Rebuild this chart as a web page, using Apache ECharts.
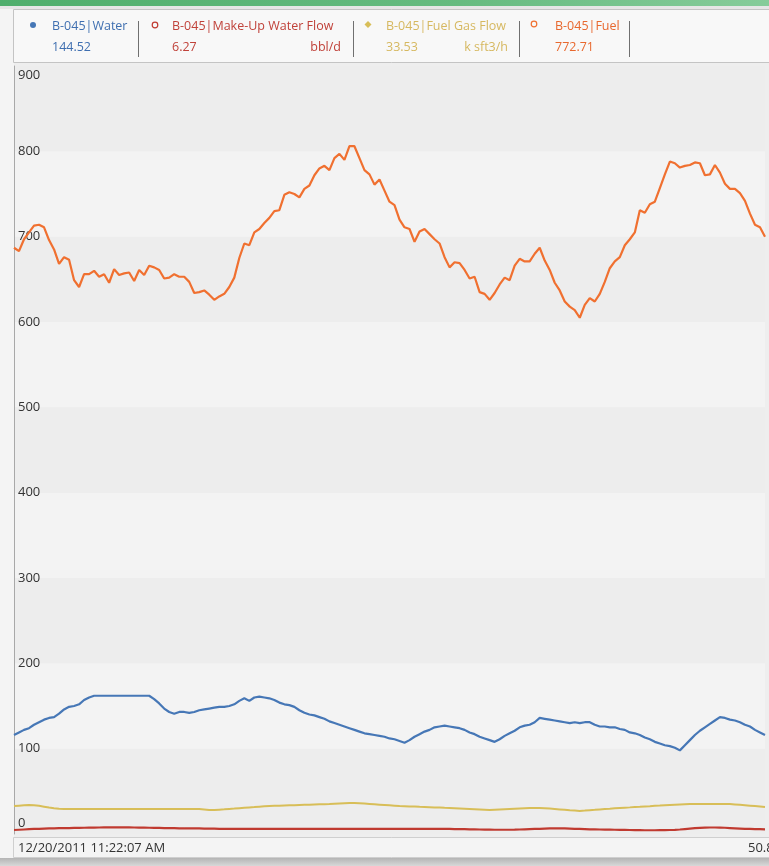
<!DOCTYPE html>
<html>
<head>
<meta charset="utf-8">
<script src="https://cdn.jsdelivr.net/npm/echarts@6/dist/echarts.min.js"></script>
<style>
html,body{margin:0;padding:0;background:#ececec;}
#c{width:769px;height:866px;}
</style>
</head>
<body>
<div id="c"></div>
<script>
// ---- data ----
const seriesNames = ['B-045|Water', 'B-045|Make-Up Water Flow', 'B-045|Fuel Gas Flow', 'B-045|Fuel'];
const currentValues = ['144.52', '6.27', '33.53', '772.71'];
const units = ['', 'bbl/d', 'k sft3/h', ''];
const xTickLabels = ['12/20/2011 11:22:07 AM', '50.8'];
const yTicks = [0, 100, 200, 300, 400, 500, 600, 700, 800, 900];

const fuel = [687,683,697,705,713,714,711,696,685,668,676,673,649,641,656,656,660,653,656,646,
662,655,657,658,648,661,655,666,664,661,651,652,656,653,653,647,634,635,637,632,
626,630,633,641,652,675,692,690,705,709,716,722,730,731,749,752,750,746,756,760,
772,780,783,778,792,797,790,806,806,792,778,773,761,767,754,741,737,720,711,709,
694,706,709,703,697,692,676,664,670,669,661,651,653,635,633,626,634,644,652,649,
666,674,671,671,680,687,672,661,646,637,624,618,614,605,620,628,624,633,647,663,
671,676,690,697,705,731,728,738,741,757,773,788,786,781,783,784,787,786,772,773,
784,775,762,756,756,751,742,727,714,711,700];

const water = [116,119,122,124,128,131,134,136,137,141,146,149,150,152,157,160,162,162,162,162,
162,162,162,162,162,162,162,162,158,153,147,143,141,143,143,142,143,145,146,147,
148,149,149,150,152,156,159,156,160,161,160,159,157,154,152,151,149,145,142,140,
139,137,135,132,130,128,126,124,122,120,118,117,116,115,114,112,111,109,107,110,
114,117,120,122,125,126,127,126,125,124,122,119,117,114,112,110,108,111,115,118,
121,125,127,128,131,136,135,134,133,132,131,130,131,130,131,131,128,126,126,125,
125,123,122,119,118,116,113,111,108,106,104,103,101,98,104,110,116,121,125,129,
133,137,136,134,133,131,128,126,122,119,116];

const fuelGas = [32.8,33.2,33.6,34.0,33.6,33.0,32.0,31.0,30.2,29.5,
29.3,29.3,29.3,29.3,29.3,29.3,29.3,29.3,29.3,29.3,29.3,29.3,29.3,29.3,29.3,29.3,29.3,29.3,29.3,29.3,29.3,29.3,29.3,29.3,29.3,29.3,29.3,29.3,
28.7,28.1,28.1,
28.5,28.9,29.4,29.8,30.3,30.7,31.1,31.5,32.0,32.4,32.8,
33.0,33.2,33.4,33.6,33.8,34.0,34.2,34.4,34.6,34.8,35.0,35.2,
35.5,35.8,36.1,36.3,36.3,36.0,
35.6,35.2,34.8,34.4,34.0,33.6,33.2,32.8,
32.6,32.3,32.1,31.8,31.6,31.4,31.2,31.0,30.7,30.5,
30.2,29.9,29.6,29.3,29.0,28.7,28.4,28.1,
28.4,28.7,29.0,29.3,29.6,29.9,30.2,30.5,
30.5,30.5,30.3,
29.8,29.3,28.8,28.3,27.8,27.4,27.0,
27.4,27.9,28.3,28.8,29.2,29.6,30.1,30.5,
30.9,31.2,31.6,31.9,32.3,32.6,33.0,33.3,33.7,34.0,
34.3,34.6,34.9,35.2,
35.2,35.2,35.2,35.2,35.2,35.2,35.2,35.2,
34.7,34.2,33.7,33.2,32.7,32.2,31.7];

const makeUp = [4.7,5.0,5.3,5.6,5.9,6.1,
6.3,6.5,6.7,6.8,6.9,7.0,7.1,7.2,7.3,7.4,7.5,7.6,
7.7,7.8,7.8,7.8,7.8,7.7,7.6,7.5,7.4,7.3,7.2,7.1,7.0,6.9,6.8,6.7,6.6,6.5,6.5,6.5,
6.4,6.3,6.2,6.1,6.0,5.9,5.9,5.9,5.9,5.9,5.9,5.9,5.9,5.9,5.9,5.9,5.9,5.9,5.9,5.9,5.9,5.9,5.9,5.9,5.9,
5.9,5.9,5.9,5.9,5.9,5.9,5.9,5.9,5.9,5.9,5.9,5.9,5.9,5.9,5.9,5.9,5.9,5.9,5.9,5.9,5.9,5.9,5.9,5.9,5.9,
5.8,5.7,5.6,5.5,5.4,5.3,5.2,5.1,5.0,5.0,5.0,5.0,5.1,5.3,5.5,5.7,5.9,6.1,6.3,6.5,6.6,6.6,6.5,6.3,
6.1,5.9,5.7,5.5,5.4,5.3,5.2,5.1,5.0,4.9,4.8,4.7,4.6,4.5,4.4,4.4,4.4,4.5,4.6,4.7,
4.9,5.3,5.8,6.3,6.8,7.2,7.5,7.6,7.6,7.5,7.3,7.0,6.7,6.4,6.1,5.9,5.7,5.6,5.5];

const lineColors = ['#4677b6', '#c03a30', '#d8be58', '#f07030'];
const textColors = ['#3f6fb0', '#c0423a', '#d6b860', '#e8682e'];

// ---- chart ----
const categories = fuel.map((_, i) => i);
const font = 'Open Sans';
const chart = echarts.init(document.getElementById('c'), null, {renderer: 'canvas'});

const legendX = [52, 172, 386, 555];
const markerX = [33, 155, 368, 534];
const unitRightX = [0, 341, 508, 0];
const sepX = [138, 353, 519, 629];

const graphics = [];
graphics.push({type:'rect', shape:{x:0,y:0,width:769,height:866}, style:{fill:'#f4f4f4'}, z:-100, silent:true});
graphics.push({type:'rect', shape:{x:0,y:0,width:769,height:6},
  style:{fill:new echarts.graphic.LinearGradient(0,0,1,0,[{offset:0,color:'#4fae6c'},{offset:0.6,color:'#66bb80'},{offset:1,color:'#86cc9a'}])}, z:-99});
graphics.push({type:'rect', shape:{x:0,y:6,width:769,height:3}, style:{fill:'#e6e6e6'}, z:-99});
graphics.push({type:'rect', shape:{x:13.5,y:9.5,width:760,height:53}, style:{fill:'#f8f8f8', stroke:'#c4c4c4', lineWidth:1}, z:-98});
graphics.push({type:'rect', shape:{x:14,y:63,width:760,height:775}, style:{fill:'#eeeeee'}, z:-98});
graphics.push({type:'rect', shape:{x:13.5,y:837.5,width:760,height:20}, style:{fill:'#f4f4f4', stroke:'#cfcfcf', lineWidth:1}, z:-97});
graphics.push({type:'rect', shape:{x:0,y:858,width:769,height:8},
  style:{fill:new echarts.graphic.LinearGradient(0,0,0,1,[{offset:0,color:'#b4b4b4'},{offset:1,color:'#d8d8d8'}])}, z:-97});

for (let i = 0; i < seriesNames.length; i++) {
  const c = lineColors[i];
  let marker;
  if (i === 0) marker = {type:'circle', shape:{cx:markerX[i], cy:25, r:3}, style:{fill:c}};
  else if (i === 1) marker = {type:'circle', shape:{cx:markerX[i], cy:25, r:2.8}, style:{fill:'none', stroke:c, lineWidth:1.2}};
  else if (i === 2) marker = {type:'polygon', shape:{points:[[markerX[i],21],[markerX[i]+3.5,24.5],[markerX[i],28],[markerX[i]-3.5,24.5]]}, style:{fill:c}};
  else marker = {type:'circle', shape:{cx:markerX[i], cy:24, r:2.8}, style:{fill:'none', stroke:c, lineWidth:1.2}};
  marker.z = 10;
  graphics.push(marker);
  graphics.push({type:'text', x:legendX[i], y:26, z:10, style:{text:seriesNames[i], fill:textColors[i], font:'12.5px "' + font + '"', textAlign:'left', textVerticalAlign:'middle'}});
  graphics.push({type:'text', x:legendX[i], y:47, z:10, style:{text:currentValues[i], fill:textColors[i], font:'12.5px "' + font + '"', textAlign:'left', textVerticalAlign:'middle'}});
  if (units[i]) {
    graphics.push({type:'text', x:unitRightX[i], y:47, z:10, style:{text:units[i], fill:textColors[i], font:'12.5px "' + font + '"', textAlign:'right', textVerticalAlign:'middle'}});
  }
  graphics.push({type:'line', shape:{x1:sepX[i]+0.5, y1:21, x2:sepX[i]+0.5, y2:57}, style:{stroke:'#707070', lineWidth:1}, z:10});
}
graphics.push({type:'text', x:18, y:848, z:10, style:{text:xTickLabels[0], fill:'#333', font:'13px "' + font + '"', textAlign:'left', textVerticalAlign:'middle'}});
graphics.push({type:'text', x:748, y:848, z:10, style:{text:xTickLabels[1], fill:'#333', font:'13px "' + font + '"', textAlign:'left', textVerticalAlign:'middle'}});

const mkSeries = (name, data, color, w) => ({
  name, type:'line', data, showSymbol:false, symbol:'none', animation:false,
  lineStyle:{color, width:w}, itemStyle:{color}, z:3
});

chart.setOption({
  animation:false,
  backgroundColor:'transparent',
  grid:{left:14, right:4, top:66, bottom:32, containLabel:false},
  xAxis:{type:'category', data:categories, boundaryGap:false,
    axisLine:{show:false}, axisTick:{show:false}, axisLabel:{show:false}, splitLine:{show:false}},
  yAxis:{type:'value', min:yTicks[0], max:yTicks[yTicks.length-1], interval:100,
    axisLine:{show:true, lineStyle:{color:'#a8a8a8', width:1}},
    axisTick:{show:false},
    splitLine:{show:false},
    splitArea:{show:true, areaStyle:{color:['#ededed', '#f3f3f3']}},
    axisLabel:{inside:true, margin:4, color:'#333', fontSize:13, fontFamily:font,
      formatter:function(v){
        if (v === yTicks[yTicks.length-1]) return '{t|' + v + '}';
        if (v === yTicks[0]) return '{b|' + v + '}';
        return '{m|' + v + '}';
      },
      rich:{
        t:{fontSize:13, fontFamily:font, color:'#333', padding:[18,0,0,0]},
        b:{fontSize:13, fontFamily:font, color:'#333', padding:[0,0,22,0]},
        m:{fontSize:13, fontFamily:font, color:'#333'}
      }
    }
  },
  graphic:graphics,
  series:[
    mkSeries(seriesNames[1], makeUp, lineColors[1], 2.2),
    mkSeries(seriesNames[2], fuelGas, lineColors[2], 2),
    mkSeries(seriesNames[0], water, lineColors[0], 2.2),
    mkSeries(seriesNames[3], fuel, lineColors[3], 2.2)
  ]
});
</script>
</body>
</html>
